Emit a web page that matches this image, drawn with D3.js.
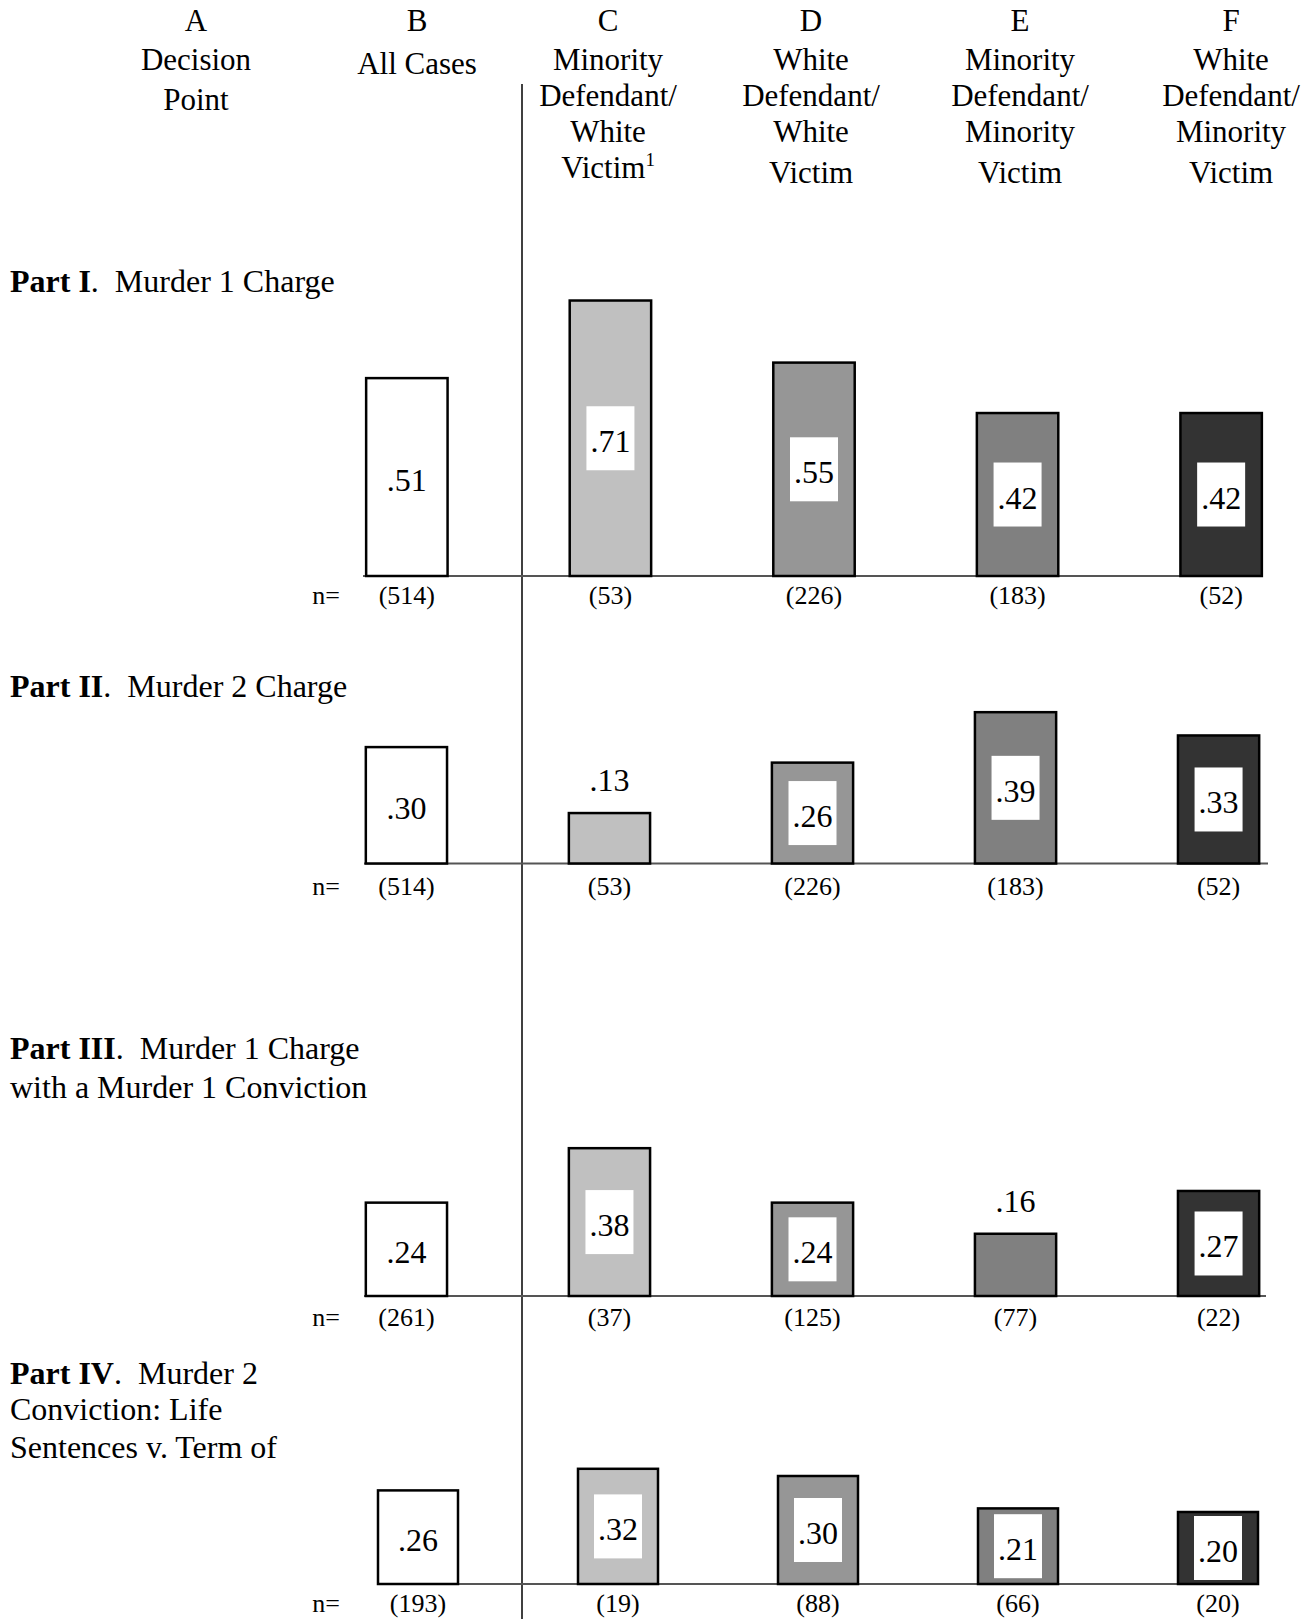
<!DOCTYPE html>
<html>
<head>
<meta charset="utf-8">
<script src="https://cdn.jsdelivr.net/npm/d3@7"></script>
<style>
  body { margin: 0; background: #fff; }
  text { font-family: "Liberation Serif", "Times New Roman", serif; fill: #000; }
</style>
</head>
<body>
<div id="chart"></div>
<script>
// Data
var categories = ["B", "C", "D", "E", "F"];
var headerLetters = ["A", "B", "C", "D", "E", "F"];

var murder1Charge = [0.51, 0.71, 0.55, 0.42, 0.42];
var murder1ChargeN = [514, 53, 226, 183, 52];

var murder2Charge = [0.30, 0.13, 0.26, 0.39, 0.33];
var murder2ChargeN = [514, 53, 226, 183, 52];

var murder1Conviction = [0.24, 0.38, 0.24, 0.16, 0.27];
var murder1ConvictionN = [261, 37, 125, 77, 22];

var lifeSentence = [0.26, 0.32, 0.30, 0.21, 0.20];
var lifeSentenceN = [193, 19, 88, 66, 20];

// Chart size
var svgWidth = 1310;
var svgHeight = 1619;

var fills = ["#ffffff", "#c0c0c0", "#969696", "#808080", "#333333"];

var svg = d3.select("#chart")
  .append("svg")
  .attr("width", svgWidth)
  .attr("height", svgHeight);

// Column headings
var headers = [
  { x: 196, lines: [[headerLetters[0], 31], ["Decision", 70], ["Point", 110]] },
  { x: 417, lines: [[headerLetters[1], 31], ["All Cases", 74]] },
  { x: 608, lines: [[headerLetters[2], 31], ["Minority", 70], ["Defendant/", 106], ["White", 142], ["Victim", 178, "1"]] },
  { x: 811, lines: [[headerLetters[3], 31], ["White", 70], ["Defendant/", 106], ["White", 142], ["Victim", 183]] },
  { x: 1020, lines: [[headerLetters[4], 31], ["Minority", 70], ["Defendant/", 106], ["Minority", 142], ["Victim", 183]] },
  { x: 1231, lines: [[headerLetters[5], 31], ["White", 70], ["Defendant/", 106], ["Minority", 142], ["Victim", 183]] }
];

headers.forEach(function (h) {
  h.lines.forEach(function (l) {
    var t = svg.append("text")
      .attr("x", h.x)
      .attr("y", l[1])
      .attr("text-anchor", "middle")
      .style("font-size", "31px")
      .text(l[0]);
    if (l[2]) {
      t.append("tspan")
        .attr("dy", -12)
        .style("font-size", "19px")
        .text(l[2]);
    }
  });
});

// divider between "All Cases" and the subgroups
svg.append("line")
  .attr("x1", 522).attr("x2", 522)
  .attr("y1", 84).attr("y2", svgHeight)
  .attr("stroke", "#000")
  .attr("stroke-width", 1.5);

// panel layout
var panels = [
  { part: "Part I", rest: ["Murder 1 Charge"], titleY: [292],
    values: murder1Charge, ns: murder1ChargeN,
    base: 576, k: 388, range: [244, 1384], axis: [363, 1263], nY: 604 },
  { part: "Part II", rest: ["Murder 2 Charge"], titleY: [697],
    values: murder2Charge, ns: murder2ChargeN,
    base: 863.5, k: 388, range: [244, 1381], axis: [364, 1268], nY: 895 },
  { part: "Part III", rest: ["Murder 1 Charge", "with a Murder 1 Conviction"], titleY: [1059, 1098],
    values: murder1Conviction, ns: murder1ConvictionN,
    base: 1296, k: 389, range: [244, 1381], axis: [364, 1266], nY: 1326 },
  { part: "Part IV", rest: ["Murder 2", "Conviction: Life", "Sentences v. Term of"], titleY: [1384, 1420, 1458],
    values: lifeSentence, ns: lifeSentenceN,
    base: 1584, k: 360, range: [258, 1378], axis: [445, 1211], nY: 1612 }
];

var fmt = d3.format(".2f");

panels.forEach(function (p) {
  var g = svg.append("g");

  // part title
  p.rest.forEach(function (line, i) {
    var t = g.append("text")
      .attr("x", 10)
      .attr("y", p.titleY[i])
      .style("font-size", "32px");
    if (i === 0) {
      t.append("tspan").style("font-weight", "bold").text(p.part);
      t.append("tspan").text(".");
      t.append("tspan").attr("dx", 16).text(line);
    } else {
      t.text(line);
    }
  });

  var x = d3.scaleBand()
    .domain(categories)
    .range(p.range)
    .padding(0.6);

  var y = d3.scaleLinear()
    .domain([0, 1])
    .range([p.base, p.base - p.k]);

  var rows = categories.map(function (c, i) {
    return { cat: c, value: p.values[i], n: p.ns[i], fill: fills[i] };
  });

  // baseline
  g.append("line")
    .attr("x1", p.axis[0]).attr("x2", p.axis[1])
    .attr("y1", y(0)).attr("y2", y(0))
    .attr("stroke", "#555")
    .attr("stroke-width", 2);

  // bars
  g.selectAll("rect.bar")
    .data(rows)
    .enter()
    .append("rect")
    .attr("class", "bar")
    .attr("x", d => x(d.cat))
    .attr("y", d => y(d.value))
    .attr("width", x.bandwidth())
    .attr("height", d => y(0) - y(d.value))
    .attr("fill", d => d.fill)
    .attr("stroke", "#000")
    .attr("stroke-width", 2.5);

  // value labels: white box in the middle of the bar, or above a short bar
  rows.forEach(function (d) {
    var cx = x(d.cat) + x.bandwidth() / 2;
    var h = y(0) - y(d.value);
    var label = fmt(d.value).replace(/^0/, "");
    if (h >= 66) {
      var mid = y(d.value) + h / 2;
      g.append("rect")
        .attr("x", cx - 24)
        .attr("y", mid - 32)
        .attr("width", 48)
        .attr("height", 64)
        .attr("fill", "#fff");
      g.append("text")
        .attr("x", cx)
        .attr("y", mid + 14)
        .attr("text-anchor", "middle")
        .style("font-size", "32px")
        .text(label);
    } else {
      g.append("text")
        .attr("x", cx)
        .attr("y", y(d.value) - 22)
        .attr("text-anchor", "middle")
        .style("font-size", "32px")
        .text(label);
    }
  });

  // n counts
  g.append("text")
    .attr("x", 340)
    .attr("y", p.nY)
    .attr("text-anchor", "end")
    .style("font-size", "26px")
    .text("n=");

  g.selectAll("text.n")
    .data(rows)
    .enter()
    .append("text")
    .attr("class", "n")
    .attr("x", d => x(d.cat) + x.bandwidth() / 2)
    .attr("y", p.nY)
    .attr("text-anchor", "middle")
    .style("font-size", "26px")
    .text(d => "(" + d.n + ")");
});
</script>
</body>
</html>
